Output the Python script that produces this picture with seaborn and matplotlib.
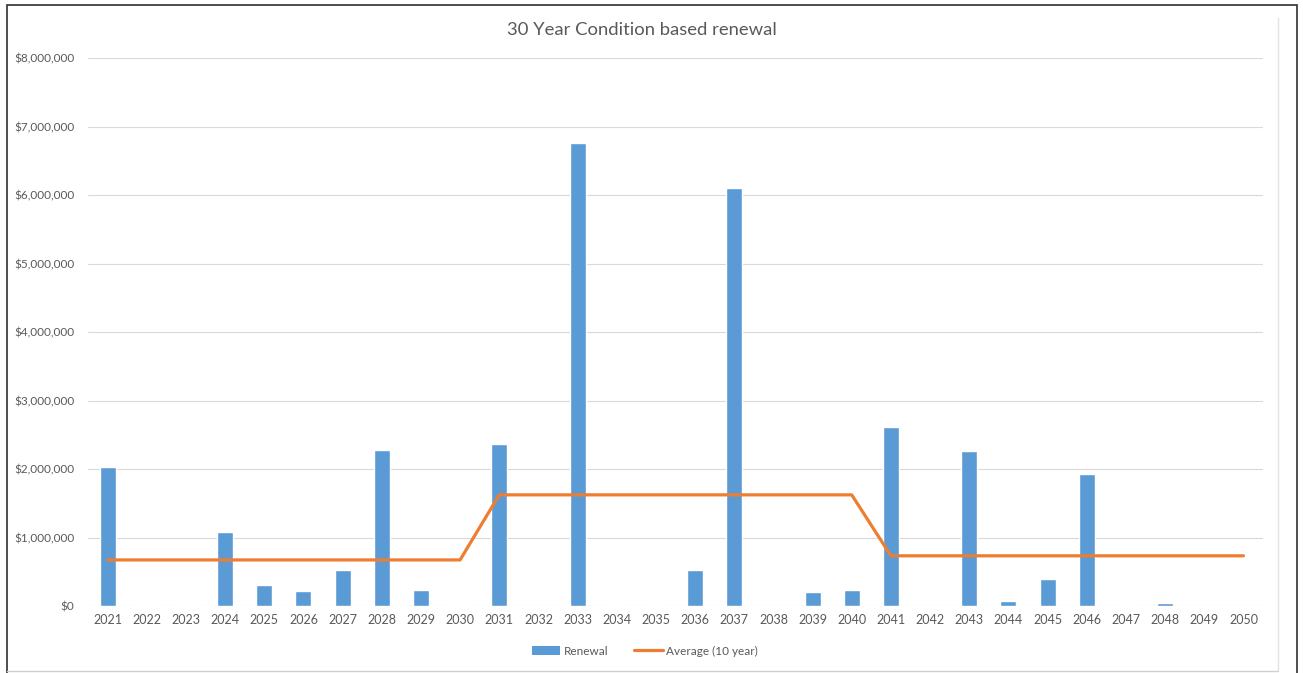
import matplotlib
matplotlib.use("Agg")
import matplotlib.pyplot as plt
from matplotlib.ticker import FuncFormatter, MultipleLocator
from matplotlib.patches import Rectangle, Patch
from matplotlib.lines import Line2D
import numpy as np
import pandas as pd
import seaborn as sns

# ---- data -----------------------------------------------------------------
years = [str(y) for y in range(2021, 2051)]
renewal = [
    2030000, 20000, 20000, 1080000, 310000, 215000, 530000, 2280000, 235000, 20000,
    2370000, 0, 6760000, 20000, 20000, 530000, 6100000, 0, 200000, 235000,
    2620000, 0, 2260000, 73000, 390000, 1930000, 15000, 45000, 0, 0,
]
average_10yr = [672500] * 10 + [1622500] * 10 + [732800] * 10

title = "30 Year Condition based renewal"
series_names = ["Renewal", "Average (10 year)"]

# ---- style ----------------------------------------------------------------
sns.set_theme(style="white")
plt.rcParams["font.family"] = ["Lato", "DejaVu Sans"]

BAR_BLUE = "#5B9BD5"
LINE_ORANGE = "#ED7D31"
TEXT_GREY = "#595959"
GRID_GREY = "#D9D9D9"

W, H = 1303, 673
fig = plt.figure(figsize=(W / 100, H / 100), dpi=100)
ax = fig.add_axes([88 / W, 1 - 606 / H, (1263 - 88) / W, (606 - 58) / H])

df = pd.DataFrame({"year": years, "renewal": renewal, "avg": average_10yr})

sns.barplot(data=df, x="year", y="renewal", color=BAR_BLUE, saturation=1,
            width=0.41, ax=ax, zorder=2)
sns.lineplot(x=np.arange(len(years)), y=df["avg"], color=LINE_ORANGE,
             linewidth=2.3, ax=ax, zorder=3)

ax.set_xlim(-0.5, len(years) - 0.5)
ax.set_ylim(0, 8000000)
ax.yaxis.set_major_locator(MultipleLocator(1000000))
ax.yaxis.set_major_formatter(FuncFormatter(lambda v, _: f"${v:,.0f}"))
ax.grid(axis="y", color=GRID_GREY, linewidth=0.8, zorder=0)
ax.set_axisbelow(True)
for s in ax.spines.values():
    s.set_visible(False)
ax.set_xlabel("")
ax.set_ylabel("")
ax.tick_params(axis="both", length=0, colors=TEXT_GREY)
ax.tick_params(axis="y", pad=10, labelsize=8.5)
ax.tick_params(axis="x", pad=6, labelsize=9)

fig.text(641.5 / W, 1 - 30 / H, title, ha="center", va="center",
         fontsize=13.3, color=TEXT_GREY)

handles = [
    Patch(facecolor=BAR_BLUE, edgecolor="none"),
    Line2D([0], [0], color=LINE_ORANGE, linewidth=2.3),
]
fig.legend(handles, series_names, loc="center", ncol=2,
           bbox_to_anchor=(645 / W, 1 - 651 / H), frameon=False,
           fontsize=8.5, labelcolor=TEXT_GREY, handlelength=2.4,
           handletextpad=0.3, columnspacing=2.2)

# chart frame
fig.add_artist(Line2D([1278 / W, 1278 / W], [1 - 18 / H, 1 - 670 / H],
                      transform=fig.transFigure, color="#E3E3E3", linewidth=1))
fig.add_artist(Line2D([7 / W, 1278 / W], [1 - 671 / H, 1 - 671 / H],
                      transform=fig.transFigure, color="#D0D0D0", linewidth=1))
fig.add_artist(Rectangle((7 / W, -0.01), (1297 - 7) / W, 1 - 5 / H + 0.01,
                         transform=fig.transFigure, fill=False,
                         edgecolor="#303030", linewidth=1.2))

fig.savefig("out.png", dpi=100)
